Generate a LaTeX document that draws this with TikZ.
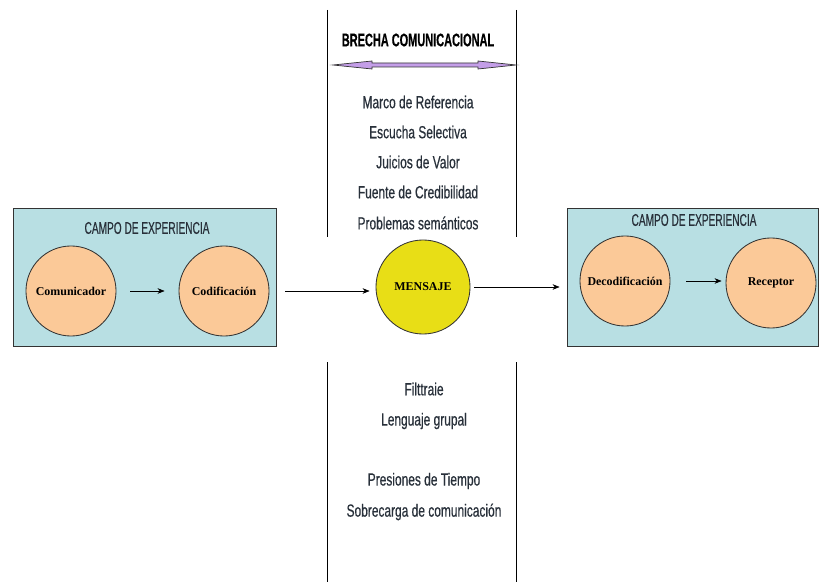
\documentclass[tikz,border=0pt]{standalone}
\usepackage{fontspec}
\setmainfont{Liberation Serif}
\newfontfamily\narrowfont[FakeStretch=0.68, FakeBold=0.5]{Liberation Sans}
\newfontfamily\capsfont[FakeStretch=0.6, FakeBold=0.4]{Liberation Sans}
\usetikzlibrary{positioning, arrows.meta}
\definecolor{campoblue}{RGB}{184,223,227}
\definecolor{etapaorange}{RGB}{251,201,152}
\definecolor{msgyellow}{RGB}{232,222,22}
\definecolor{brechapurple}{RGB}{196,158,232}
\definecolor{labelgray}{RGB}{40,48,58}

\begin{document}
\begin{tikzpicture}[x=0.025cm, y=-0.025cm,
  campo/.style={rectangle, draw=black!80, fill=campoblue, inner sep=0pt},
  etapa/.style={circle, draw=black!80, semithick, fill=etapaorange, minimum size=2.25cm,
    inner sep=0pt, font=\bfseries\fontsize{8.5}{10}\selectfont},
  msg/.style={etapa, fill=msgyellow, minimum size=2.35cm},
  ttl/.style={font=\capsfont\fontsize{12}{13}\selectfont, text=labelgray},
  lbl/.style={font=\narrowfont\fontsize{12.5}{14}\selectfont, text=labelgray},
  arr/.style={-{Stealth[length=5pt, width=4pt]}, thin, black},
  gapline/.style={thin, black},
]
  \useasboundingbox (0,0) rectangle (819,582);

  % campos de experiencia
  \node[campo, minimum width=6.575cm, minimum height=3.45cm] (campoA) at (144.5,277) {};
  \node[campo, minimum width=6.275cm, minimum height=3.45cm] (campoB) at (692.5,277) {};
  \node[ttl] (ttlA) at (147,228) {CAMPO DE EXPERIENCIA};
  \node[ttl] (ttlB) at (694,220) {CAMPO DE EXPERIENCIA};

  % etapas
  \node[etapa] (com) at (71,291) {Comunicador};
  \node[etapa] (cod) at (224,291) {Codificación};
  \node[msg]   (men) at (423,287) {MENSAJE};
  \node[etapa] (dec) at (625,281) {Decodificación};
  \node[etapa] (rec) at (771,283) {Receptor};

  % brecha
  \draw[gapline] (327,10) -- (327,237);
  \draw[gapline] (516,10) -- (516,237);
  \draw[gapline] (327,362) -- (327,582);
  \draw[gapline] (516,362) -- (516,582);
  \node[font=\capsfont\bfseries\fontsize{13}{14}\selectfont] (brecha) at (418,40) {BRECHA COMUNICACIONAL};
  \draw[fill=brechapurple, draw=black!80, line width=0.5pt]
    (333,65) -- (372,61) -- (372,63) -- (478,63) -- (478,61) -- (516,65)
    -- (478,69) -- (478,67) -- (372,67) -- (372,69) -- cycle;

  \node[lbl] (b1) at (418,102) {Marco de Referencia};
  \node[lbl] (b2) at (418,132) {Escucha Selectiva};
  \node[lbl] (b3) at (418,162) {Juicios de Valor};
  \node[lbl] (b4) at (418,192) {Fuente de Credibilidad};
  \node[lbl] (b5) at (418,223) {Problemas semánticos};

  \node[lbl] (b6) at (424,389) {Filttraie};
  \node[lbl] (b7) at (424,421) {Lenguaje grupal};
  \node[lbl] (b8) at (424,481) {Presiones de Tiempo};
  \node[lbl] (b9) at (424,512) {Sobrecarga de comunicación};

  % flujo
  \draw[arr, shorten <=0.35cm, shorten >=0.35cm] (com.east) -- (cod.west);
  \draw[arr, shorten <=0.4cm, shorten >=0.15cm] (cod.east) -- (cod.east -| men.west);
  \draw[arr, shorten <=0.1cm, shorten >=0.5cm] (men.east) -- (men.east -| dec.west);
  \draw[arr, shorten <=0.4cm, shorten >=0.1cm] (dec.east) -- (dec.east -| rec.west);
\end{tikzpicture}
\end{document}
